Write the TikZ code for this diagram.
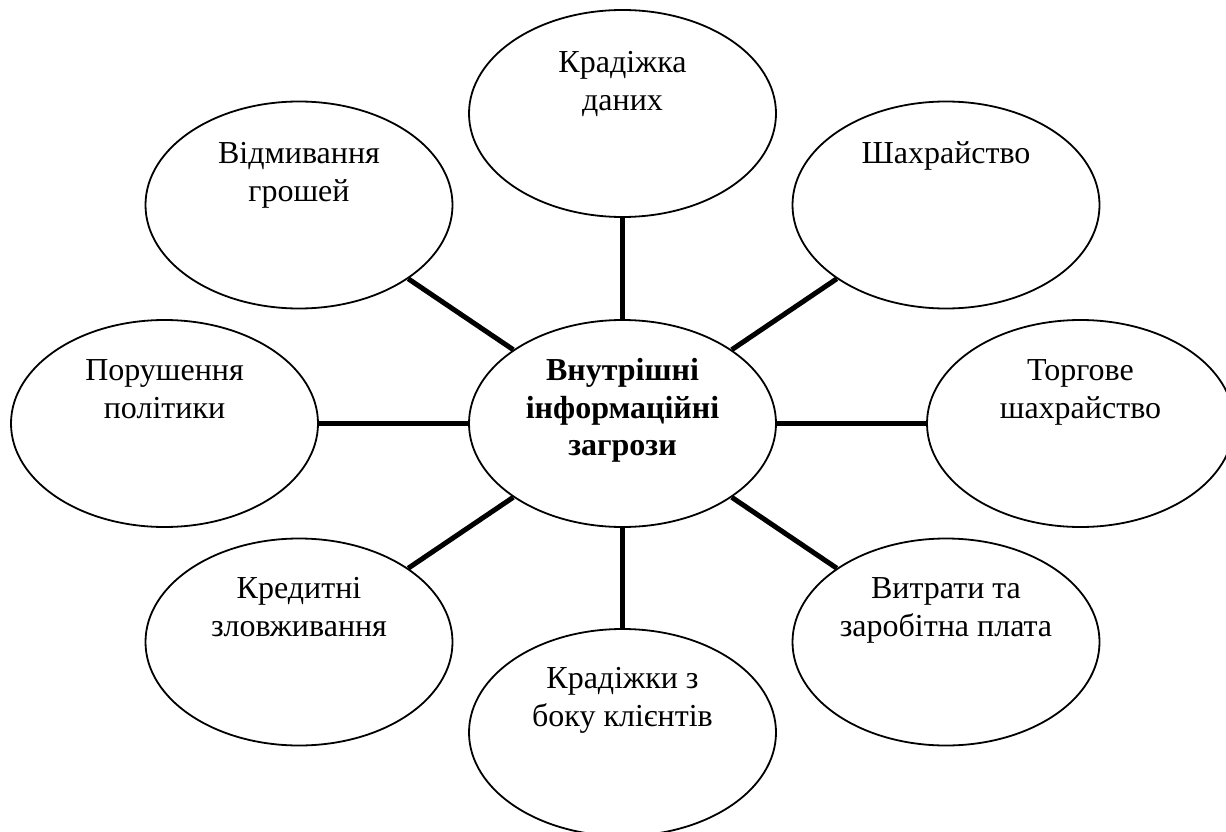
\documentclass[tikz,border=0pt]{standalone}
\usepackage{fontspec}
\setmainfont{Liberation Serif}
\usetikzlibrary{shapes.geometric}
\begin{document}
\begin{tikzpicture}[x=1pt,y=-1pt,
  bub/.style={draw=black,line width=1.8pt,ellipse,inner sep=0pt,minimum width=307pt,minimum height=207pt},
  lbl/.style={anchor=north,inner sep=0pt,align=center,font=\fontsize{32}{38}\selectfont},
  blbl/.style={lbl,font=\fontsize{32}{37.5}\selectfont\bfseries},
  conn/.style={line width=5pt,black}]
\useasboundingbox (0,0) rectangle (1226,832);
\newcommand{\tp}{\rule{0pt}{28pt}}
\node[bub] (c) at (622.5,423.5) {};
\node[bub] (n) at (622.5,113.5) {};
\node[bub] (ne) at (946,205) {};
\node[bub] (nw) at (299,205) {};
\node[bub] (w) at (164.5,423.5) {};
\node[bub] (e) at (1080.5,423.5) {};
\node[bub] (sw) at (299,642) {};
\node[bub] (se) at (946,642) {};
\node[bub] (s) at (622.5,732.5) {};
\foreach \t in {n,ne,nw,w,e,sw,se,s}{\draw[conn] (c) -- (\t);}
\node[blbl] (tc) at (622.5,352.5) {\tp Внутрішні\\інформаційні\\загрози};
\node[lbl] (tn) at (622.5,44.5) {\tp Крадіжка\\даних};
\node[lbl] (tne) at (946,135) {\tp Шахрайство};
\node[lbl] (tnw) at (299,135) {\tp Відмивання\\грошей};
\node[lbl] (tw) at (164.5,352.5) {\tp Порушення\\політики};
\node[lbl] (te) at (1080.5,352.5) {\tp Торгове\\шахрайство};
\node[lbl] (tsw) at (299,570.5) {\tp Кредитні\\зловживання};
\node[lbl] (tse) at (946,570.5) {\tp Витрати та\\заробітна плата};
\node[lbl] (ts) at (622.5,660) {\tp Крадіжки з\\боку клієнтів};
\end{tikzpicture}
\end{document}
